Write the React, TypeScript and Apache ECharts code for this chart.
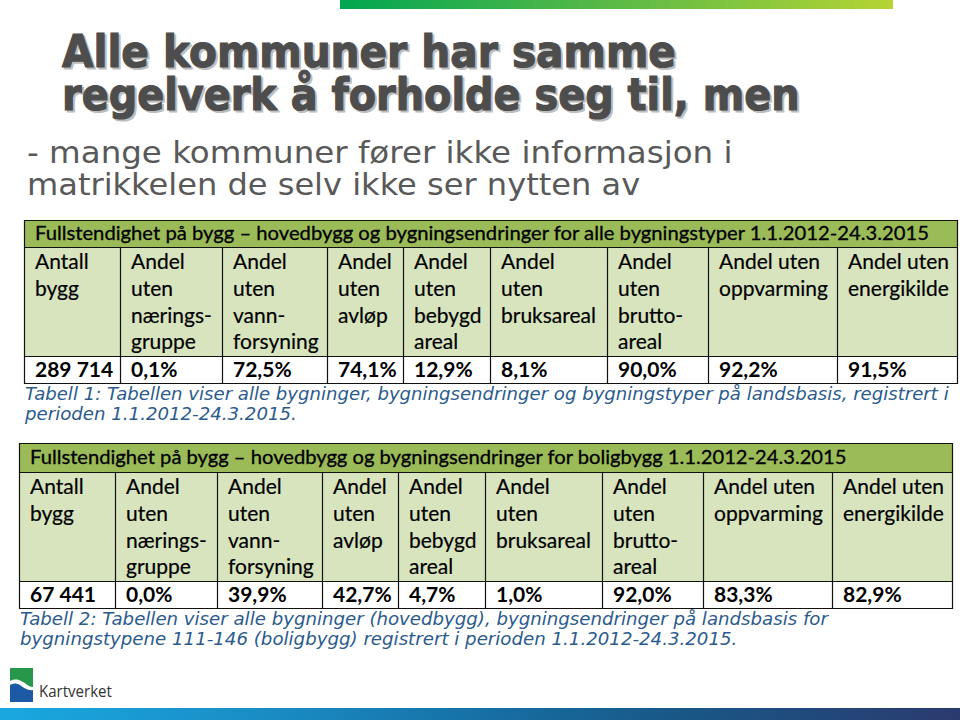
import React, { useEffect, useRef } from "react";
import * as echarts from "echarts";

// ---------- data ----------
const titleLines = ["Alle kommuner har samme", "regelverk å forholde seg til, men"];
const subtitleLines = [
  "- mange kommuner fører ikke informasjon i",
  "matrikkelen de selv ikke ser nytten av",
];
const columnHeaders = [
  "Antall\nbygg",
  "Andel\nuten\nnærings-\ngruppe",
  "Andel\nuten\nvann-\nforsyning",
  "Andel\nuten\navløp",
  "Andel\nuten\nbebygd\nareal",
  "Andel\nuten\nbruksareal",
  "Andel\nuten\nbrutto-\nareal",
  "Andel uten\noppvarming",
  "Andel uten\nenergikilde",
];
const table1Title =
  "Fullstendighet på bygg – hovedbygg og bygningsendringer for alle bygningstyper 1.1.2012-24.3.2015";
const table1Values = ["289 714", "0,1%", "72,5%", "74,1%", "12,9%", "8,1%", "90,0%", "92,2%", "91,5%"];
const table1Caption = [
  "Tabell 1: Tabellen viser alle bygninger, bygningsendringer og bygningstyper på landsbasis, registrert i",
  "perioden 1.1.2012-24.3.2015.",
];
const table2Title =
  "Fullstendighet på bygg – hovedbygg og bygningsendringer for boligbygg 1.1.2012-24.3.2015";
const table2Values = ["67 441", "0,0%", "39,9%", "42,7%", "4,7%", "1,0%", "92,0%", "83,3%", "82,9%"];
const table2Caption = [
  "Tabell 2: Tabellen viser alle bygninger (hovedbygg), bygningsendringer på landsbasis for",
  "bygningstypene 111-146 (boligbygg) registrert i perioden 1.1.2012-24.3.2015.",
];
const logoText = "Kartverket";

// ---------- layout / style ----------
const colWidths = [96, 102, 105, 76, 87, 117, 101, 129, 120];

let measureCtx: CanvasRenderingContext2D | null = null;
function measure(text: string, font: string) {
  if (!measureCtx) measureCtx = document.createElement("canvas").getContext("2d");
  measureCtx!.font = font;
  return measureCtx!.measureText(text).width;
}

type TOpts = {
  size: number;
  family: string;
  weight?: string;
  style?: string;
  fill: string;
  width?: number;
  stroke?: string;
  lineWidth?: number;
};
function textEl(text: string, x: number, cy: number, o: TOpts) {
  const font = `${o.style || "normal"} ${o.weight || "normal"} ${o.size}px "${o.family}"`;
  let sx = 1;
  if (o.width) sx = o.width / measure(text, font);
  const style: any = {
    text,
    x: 0,
    y: 0,
    fill: o.fill,
    fontSize: o.size,
    fontFamily: o.family,
    fontWeight: o.weight || "normal",
    fontStyle: o.style || "normal",
    align: "left",
    verticalAlign: "middle",
  };
  if (o.stroke) {
    style.stroke = o.stroke;
    style.lineWidth = o.lineWidth || 1;
  }
  return { type: "text", x, y: cy, scaleX: sx, silent: true, style };
}

function buildTable(
  left: number,
  top: number,
  titleH: number,
  title: string,
  titleW: number,
  values: string[],
  caption: string[],
  captionW: number[],
  captionBase: number[]
) {
  const els: any[] = [];
  const headerH = 109;
  const dataH = 27;
  const total = colWidths.reduce((a, b) => a + b, 0);
  const tb = top + titleH;
  const hb = tb + headerH;
  const db = hb + dataH;
  els.push({ type: "rect", shape: { x: left, y: top, width: total, height: titleH }, style: { fill: "#9bbb59" }, silent: true });
  els.push({ type: "rect", shape: { x: left, y: tb, width: total, height: headerH }, style: { fill: "#d7e4bd" }, silent: true });
  els.push({ type: "rect", shape: { x: left, y: hb, width: total, height: dataH }, style: { fill: "#ffffff" }, silent: true });
  const line = (x1: number, y1: number, x2: number, y2: number) =>
    els.push({ type: "line", shape: { x1, y1, x2, y2 }, style: { stroke: "#111", lineWidth: 1.2 }, silent: true });
  [top, tb, hb, db].forEach((y) => line(left, y + 0.5, left + total, y + 0.5));
  line(left + 0.5, top, left + 0.5, db + 1);
  line(left + total + 0.5, top, left + total + 0.5, db + 1);
  let x = left;
  const fs = 21;
  const off = fs * 0.37 + 1.5;
  els.push(
    textEl(title, left + 11, top + titleH / 2 + 6.5 - fs * 0.37, {
      size: 20,
      family: "Lato",
      fill: "#000",
      width: titleW,
      stroke: "#000",
      lineWidth: 0.3,
    })
  );
  colWidths.forEach((w, i) => {
    if (i > 0) line(x + 0.5, tb, x + 0.5, db);
    const lines = columnHeaders[i].split("\n");
    lines.forEach((ln, k) => {
      els.push(
        textEl(ln, x + 11, tb + 23 + k * 26.7 - off, { size: fs, family: "Lato", fill: "#000", stroke: "#000", lineWidth: 0.2 })
      );
    });
    els.push(textEl(values[i], x + 11, hb + 22 - off, { size: fs, family: "Lato", weight: "bold", fill: "#000" }));
    x += w;
  });
  caption.forEach((c, k) => {
    els.push(
      textEl(c, left + 1, captionBase[k] - 5.2, {
        size: 17,
        family: "DejaVu Sans",
        style: "italic",
        fill: "#2b5b8c",
        width: captionW[k],
      })
    );
  });
  return els;
}

echarts.graphic.registerShape(
  "logoGreen",
  echarts.graphic.extendPath("M10 668 L33 668 L33 687 C28 687 25 682 19 680 C15 679 12 680 10 681 Z", {})
);
echarts.graphic.registerShape(
  "logoBlue",
  echarts.graphic.extendPath("M10 685 C13 683 16 683 20 685 C24 688 28 691 33 690 L33 702 L10 702 Z", {})
);

export default function App() {
  const ref = useRef<HTMLDivElement>(null);
  useEffect(() => {
    if (!ref.current) return;
    const chart = echarts.init(ref.current, undefined, { renderer: "svg" });
    const els: any[] = [];
    // top bar
    els.push({
      type: "rect",
      shape: { x: 340, y: 0, width: 553, height: 9 },
      style: {
        fill: new echarts.graphic.LinearGradient(0, 0, 1, 0, [
          { offset: 0, color: "#00a651" },
          { offset: 0.5, color: "#5cba47" },
          { offset: 1, color: "#b6d433" },
        ]),
      },
      silent: true,
    });
    // title with shadow
    const tW = [614, 738];
    const tC = [51.5, 95];
    titleLines.forEach((t, i) => {
      els.push(
        textEl(t, 64, tC[i] + 2, {
          size: 44,
          family: "DejaVu Sans",
          weight: "bold",
          fill: "#bdbdbd",
          width: tW[i],
          stroke: "#bdbdbd",
          lineWidth: 1.2,
        })
      );
    });
    titleLines.forEach((t, i) => {
      els.push(
        textEl(t, 62, tC[i], {
          size: 44,
          family: "DejaVu Sans",
          weight: "bold",
          fill: "#4d4d4d",
          width: tW[i],
          stroke: "#4d4d4d",
          lineWidth: 1.2,
        })
      );
    });
    // subtitle
    const sW = [706, 613];
    const sC = [152, 184];
    subtitleLines.forEach((t, i) => {
      els.push(textEl(t, 27, sC[i], { size: 30, family: "DejaVu Sans", fill: "#595959", width: sW[i] }));
    });
    // tables
    els.push(...buildTable(24, 220, 27, table1Title, 895, table1Values, table1Caption, [925, 272], [399, 419]));
    els.push(...buildTable(19, 443, 29, table2Title, 818, table2Values, table2Caption, [809, 718], [624, 644]));
    // logo
    els.push({ type: "logoGreen", style: { fill: "#27984a" }, silent: true });
    els.push({ type: "logoBlue", style: { fill: "#1d5aa5" }, silent: true });
    els.push(textEl(logoText, 39, 691, { size: 16, family: "Open Sans", fill: "#333333", width: 73 }));
    // bottom bar
    els.push({
      type: "rect",
      shape: { x: 0, y: 708, width: 960, height: 12 },
      style: {
        fill: new echarts.graphic.LinearGradient(0, 0, 1, 0, [
          { offset: 0, color: "#1aa8e0" },
          { offset: 0.3, color: "#1a8ac2" },
          { offset: 0.5, color: "#1670a5" },
          { offset: 0.7, color: "#185887" },
          { offset: 1, color: "#2b3a6f" },
        ]),
      },
      silent: true,
    });
    chart.setOption({
      animation: false,
      backgroundColor: "#ffffff",
      graphic: { elements: els },
    });
    return () => chart.dispose();
  }, []);
  return (
    <div
      ref={ref}
      style={{ position: "fixed", left: 0, top: 0, width: 960, height: 720, background: "#fff" }}
    />
  );
}
